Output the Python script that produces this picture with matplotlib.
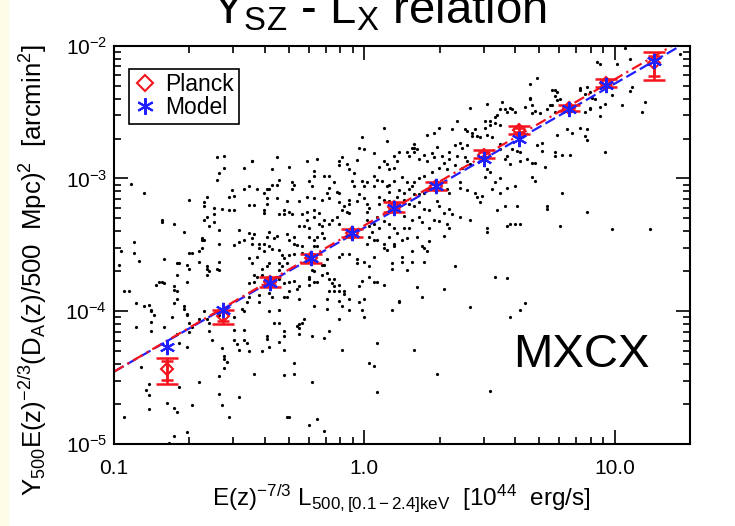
import numpy as np
import matplotlib
matplotlib.use("Agg")
import matplotlib.pyplot as plt
from matplotlib.lines import Line2D
from matplotlib.patches import Rectangle
from matplotlib.ticker import FixedLocator, FixedFormatter, LogLocator, NullFormatter

plt.rcParams['font.family'] = ['Liberation Sans', 'DejaVu Sans']
plt.rcParams['mathtext.fontset'] = 'custom'
plt.rcParams['mathtext.rm'] = 'Liberation Sans'
plt.rcParams['mathtext.it'] = 'Liberation Sans'
plt.rcParams['mathtext.bf'] = 'Liberation Sans:bold'

RED = '#f5141e'
BLUE = '#1f1fff'

# individual MCXC clusters, log10 of L500 (1e44 erg/s) and of scaled Y500 (arcmin^2)
log_lx = [
    -0.93, -0.88, -0.92, -0.81, -0.81, -0.76, -0.72, -0.70, -0.65, -0.65,
    -0.64, -0.64, -0.64, -0.63, -0.64, -0.63, -0.60, -0.60, -0.62, -0.60,
    -0.58, -0.59, -0.58, -0.59, -0.56, -0.56, -0.57, -0.54, -0.52, -0.54,
    -0.53, -0.52, -0.48, -0.48, -0.46, -0.45, -0.50, -0.48, -0.46, -0.45,
    -0.52, -0.46, 0.08, 0.09, -0.01, -0.02, 0.00, 0.04, -0.09, -0.10,
    -0.10, -0.19, -0.23, -0.03, -0.07, -0.06, -0.04, -0.35, -0.45, -0.30,
    -0.37, -0.20, -0.20, -0.16, -0.14, -0.34, -0.37, -0.29, -0.28, -0.29,
    -0.22, -0.21, -0.12, -0.05, -0.04, -0.01, 0.01, 0.00, 0.09, 0.10,
    0.12, 0.08, 0.06, 0.12, 0.13, 0.14, 0.04, 0.05, 0.04, 0.07,
    0.09, 0.10, 0.12, 0.14, 0.10, -0.43, -0.40, -0.39, -0.38, -0.35,
    -0.39, -0.35, -0.39, -0.44, -0.40, -0.40, -0.31, -0.26, -0.23, -0.20,
    -0.17, -0.14, -0.11, -0.10, -0.15, -0.14, -0.10, -0.08, -0.06, -0.06,
    -0.07, -0.06, -0.09, -0.03, -0.02, 0.00, 0.01, 0.02, 0.01, 0.06,
    0.06, 0.08, 0.10, 0.13, -0.34, -0.32, -0.32, -0.30, -0.29, -0.25,
    -0.23, -0.20, -0.18, -0.26, -0.24, -0.23, -0.22, -0.20, -0.18, -0.17,
    -0.16, -0.14, -0.13, -0.11, -0.10, 0.01, 0.02, 0.04, 0.05, 0.06,
    0.08, 0.10, 0.12, 0.13, -0.44, -0.39, -0.38, -0.35, -0.36, -0.31,
    -0.30, -0.28, -0.28, -0.27, -0.25, -0.22, -0.20, -0.19, -0.17, -0.16,
    -0.20, -0.19, -0.42, -0.40, -0.45, -0.42, -0.38, -0.37, 0.02, 0.05,
    0.08, 0.10, 0.12, 0.12, 0.08, 0.03, 0.04, 0.01, 0.69, 0.66,
    0.75, 0.76, 0.77, 0.76, 0.77, 0.78, 0.75, 0.74, 0.73, 0.66,
    0.66, 0.67, 0.68, 0.70, 0.67, 0.55, 0.49, 0.42, 0.54, 0.56,
    0.58, 0.59, 0.57, 0.60, 0.64, 0.53, 0.52, 0.50, 0.52, 0.48,
    0.48, 0.50, 0.54, 0.37, 0.30, 0.25, 0.28, 0.35, 0.40, 0.41,
    0.43, 0.44, 0.43, 0.45, 0.46, 0.49, 0.51, 0.38, 0.41, 0.39,
    0.36, 0.34, 0.29, 0.20, 0.20, 0.19, 0.20, 0.21, 0.17, 0.18,
    0.24, 0.27, 0.22, 0.25, 0.28, 0.31, 0.32, 0.34, 0.37, 0.40,
    0.41, 0.42, 0.39, 0.36, 0.33, 0.30, 0.27, 0.54, 0.54, 0.57,
    0.58, 0.56, 0.59, 0.61, 0.62, 0.65, 0.67, 0.69, 0.71, 0.71,
    0.49, 0.50, 0.48, 0.52, 0.54, 0.51, 0.54, 0.57, 0.60, 0.62,
    0.68, 0.67, 0.68, 0.72, 0.76, 0.78, 0.15, 0.17, 0.19, 0.20,
    0.22, 0.24, 0.16, 0.18, 0.20, 0.22, 0.24, 0.26, 0.33, 0.34,
    0.38, 0.38, 0.41, 0.44, 0.45, 0.47, 0.46, 0.16, 0.18, 0.20,
    0.22, 0.24, 0.26, 0.29, 0.30, 0.32, 0.34, 0.35, 0.16, 0.19,
    0.22, 0.23, 0.26, 0.28, 0.30, 0.33, 0.38, 0.42, 0.49, 0.57,
    0.60, 0.53, 0.56, 0.61, 0.73, 0.73, 0.16, 0.18, 0.15, 0.17,
    0.21, 0.23, 0.24, 0.26, 0.32, 0.34, 0.77, 0.76, 0.76, 0.93,
    0.94, 1.01, 1.06, 1.04, 0.89, 0.88, 0.90, 0.91, 0.86, 0.86,
    0.96, 0.94, 0.90, 0.90, 0.88, 0.99, 1.07, 1.06, 1.03, 1.12,
    1.11, 0.94, 0.89, 0.88, 0.83, 0.81, 0.92, 0.96, 0.82, 0.79,
    0.89, 0.86, 0.89, 0.99, 1.14, 1.26, 0.79, 0.62, 0.58, 0.49,
    -0.40, -0.34, -0.33, -0.32, -0.30, -0.28, -0.25, -0.46, -0.43, -0.45,
    -0.41, -0.39, -0.38, -0.34, -0.33, -0.31, -0.34, -0.44, -0.43, -0.44,
    -0.46, -0.41, -0.39, -0.35, -0.34, -0.32, -0.30, -0.28, -0.26, -0.27,
    -0.30, -0.32, -0.31, -0.37, -0.38, -0.42, -0.46, -0.42, -0.22, -0.22,
    -0.20, -0.22, -0.19, -0.17, -0.15, -0.14, -0.12, -0.13, -0.12, -0.14,
    -0.12, -0.10, -0.10, -0.17, -0.16, -0.15, -0.20, -0.21, -0.10, -0.09,
    -0.06, -0.03, -0.03, 0.00, 0.02, 0.04, 0.09, 0.11, 0.11, -0.08,
    -0.08, -0.06, -0.10, -0.09, -0.06, -0.15, -0.15, -0.26, -0.20, -0.02,
    -0.01, 0.02, 0.04, 0.05, 0.08, -0.02, 0.00, -0.01, 0.00, -0.10,
    -0.14, -0.16, -0.21, -0.24, -0.25, -0.26, -0.27, -0.26, -0.26, -0.38,
    -0.34, -0.36, -0.34, -0.32, -0.32, -0.34, -0.39, -0.39, -0.38, -0.41,
    -0.32, -0.09, 0.05, 0.11, 0.14, -0.28, -0.28, -0.32, -0.44, 0.02,
    0.04, -0.21, 0.05, -0.31, -0.30, -0.19, -0.22, -0.16, 0.15, 0.19,
    0.25, 0.15, 0.19, 0.24, 0.17, 0.36, 0.21, 0.23, 0.14, 0.32,
    0.42, 0.52, 0.57, 0.64, 0.62, 0.58, 0.20, 0.29, 0.50, -0.97,
    -0.92, -0.90, -0.80, -0.98, -0.96, -0.94, -0.91, -0.88, -0.85, -0.82,
    -0.81, -0.80, -0.83, -0.75, -0.74, -0.76, -0.76, -0.75, -0.71, -0.70,
    -0.69, -0.66, -0.65, -0.66, -0.63, -0.62, -0.63, -0.63, -0.59, -0.58,
    -0.86, -0.85, -0.84, -0.85, -0.91, -0.85, -0.80, -0.77, -0.76, -0.75,
    -0.72, -0.72, -0.71, -0.71, -0.70, -0.69, -0.70, -0.74, -0.66, -0.64,
    -0.63, -0.62, -0.62, -0.61, -0.58, -0.57, -0.56, -0.71, -0.75, -0.89,
    -0.86, -0.87, -0.86, -0.86, -0.96, -0.79, -0.76, -0.75, -0.74, -0.71,
    -0.69, -0.76, -0.78, -0.66, -0.58, -0.55, -0.56, -0.56, -0.58, -0.57,
    -0.54, -0.50, -0.52, -0.48, -0.48, -0.52, -0.51, -0.50, -0.47, -0.46,
    -0.49, -0.47, -0.48, -0.52, -0.71, -0.70, -0.75, -0.58, -0.58, -0.50,
]
log_y = [
    -3.04, -3.11, -3.48, -3.31, -3.33, -3.34, -3.40, -3.16, -3.45, -3.46,
    -3.46, -3.18, -3.21, -3.14, -3.31, -3.29, -3.22, -3.27, -3.36, -3.33,
    -3.39, -3.01, -2.96, -2.84, -2.83, -2.92, -3.23, -3.24, -3.24, -3.14,
    -3.09, -3.13, -3.08, -2.92, -3.06, -2.87, -3.48, -3.46, -3.41, -3.45,
    -3.50, -3.20, -2.62, -2.72, -2.69, -2.77, -2.78, -2.81, -2.84, -2.87,
    -2.90, -2.85, -2.87, -2.86, -2.89, -2.93, -2.96, -2.84, -2.87, -2.91,
    -2.93, -2.94, -2.98, -2.98, -2.98, -3.01, -3.05, -3.03, -3.05, -3.08,
    -3.02, -3.06, -3.03, -3.02, -3.06, -3.02, -3.03, -3.06, -2.89, -2.93,
    -2.92, -2.87, -2.91, -2.83, -2.87, -2.80, -2.98, -3.01, -3.06, -3.02,
    -3.06, -3.05, -3.02, -3.09, -3.10, -3.08, -3.11, -3.08, -3.08, -3.05,
    -3.15, -3.15, -3.19, -3.20, -3.24, -3.26, -3.17, -3.17, -3.14, -3.15,
    -3.16, -3.15, -3.10, -3.11, -3.11, -3.07, -3.18, -3.21, -3.16, -3.19,
    -3.25, -3.26, -3.24, -3.17, -3.12, -3.15, -3.19, -3.22, -3.25, -3.14,
    -3.19, -3.16, -3.17, -3.14, -3.27, -3.27, -3.24, -3.25, -3.27, -3.27,
    -3.25, -3.24, -3.26, -3.36, -3.36, -3.31, -3.37, -3.29, -3.34, -3.36,
    -3.31, -3.34, -3.31, -3.29, -3.34, -3.31, -3.36, -3.34, -3.29, -3.37,
    -3.32, -3.34, -3.37, -3.41, -3.42, -3.44, -3.40, -3.43, -3.45, -3.42,
    -3.46, -3.44, -3.49, -3.50, -3.51, -3.44, -3.46, -3.44, -3.41, -3.45,
    -3.51, -3.51, -3.49, -3.49, -3.49, -3.52, -3.51, -3.53, -3.44, -3.46,
    -3.49, -3.44, -3.49, -3.51, -3.52, -3.40, -3.46, -3.49, -2.24, -2.29,
    -2.33, -2.33, -2.35, -2.38, -2.41, -2.40, -2.45, -2.45, -2.48, -2.39,
    -2.40, -2.45, -2.49, -2.51, -2.51, -2.42, -2.44, -2.47, -2.48, -2.48,
    -2.47, -2.48, -2.50, -2.50, -2.46, -2.52, -2.54, -2.57, -2.58, -2.57,
    -2.62, -2.60, -2.60, -2.57, -2.62, -2.67, -2.66, -2.63, -2.63, -2.64,
    -2.66, -2.63, -2.68, -2.68, -2.69, -2.67, -2.69, -2.73, -2.75, -2.77,
    -2.75, -2.80, -2.76, -2.74, -2.77, -2.77, -2.80, -2.78, -2.80, -2.83,
    -2.82, -2.81, -2.85, -2.87, -2.84, -2.83, -2.88, -2.85, -2.83, -2.84,
    -2.87, -2.89, -2.92, -2.90, -2.93, -2.92, -2.95, -2.74, -2.78, -2.83,
    -2.89, -2.85, -2.78, -2.79, -2.80, -2.85, -2.88, -2.75, -2.73, -2.79,
    -2.93, -2.95, -2.99, -3.03, -3.00, -3.08, -3.11, -3.07, -3.06, -2.87,
    -2.88, -2.99, -3.02, -2.91, -2.83, -3.36, -2.99, -3.03, -3.06, -3.03,
    -3.00, -2.98, -3.11, -3.08, -3.12, -3.12, -3.11, -3.08, -3.08, -3.11,
    -3.07, -3.03, -3.09, -3.11, -3.14, -3.13, -3.18, -3.16, -3.19, -3.21,
    -3.18, -3.23, -3.24, -3.17, -3.21, -3.26, -3.23, -3.27, -3.28, -3.31,
    -3.29, -3.33, -3.37, -3.31, -3.32, -3.34, -3.29, -3.31, -3.37, -3.36,
    -3.34, -3.24, -3.21, -3.21, -3.21, -3.23, -3.37, -3.37, -3.46, -3.45,
    -3.44, -3.51, -3.52, -3.47, -3.43, -3.37, -2.67, -2.80, -2.50, -2.12,
    -2.14, -2.14, -2.10, -2.02, -2.31, -2.36, -2.35, -2.39, -2.33, -2.32,
    -2.44, -2.46, -2.47, -2.48, -2.50, -2.37, -2.31, -2.34, -2.45, -2.42,
    -2.50, -2.53, -2.63, -2.68, -2.66, -2.63, -2.40, -2.80, -2.82, -2.82,
    -2.71, -2.62, -3.25, -3.38, -3.38, -2.06, -3.11, -3.34, -3.34, -3.40,
    -3.55, -3.54, -3.58, -3.60, -3.58, -3.57, -3.56, -3.60, -3.59, -3.64,
    -3.68, -3.66, -3.64, -3.64, -3.66, -3.64, -3.69, -3.73, -3.74, -3.78,
    -3.79, -3.73, -3.76, -3.74, -3.76, -3.79, -3.78, -3.77, -3.81, -3.83,
    -3.85, -3.89, -3.89, -3.89, -3.86, -3.88, -3.89, -3.93, -3.74, -3.76,
    -3.78, -3.80, -3.78, -3.73, -3.71, -3.76, -3.76, -3.79, -3.81, -3.85,
    -3.85, -3.80, -3.85, -3.65, -3.65, -3.61, -3.70, -3.69, -3.59, -3.57,
    -3.57, -3.61, -3.64, -3.63, -3.66, -3.59, -3.54, -3.64, -3.68, -3.85,
    -3.87, -3.91, -3.92, -3.96, -3.99, -3.91, -3.98, -3.91, -3.96, -3.81,
    -3.77, -3.74, -3.78, -3.78, -3.80, -3.93, -3.91, -3.99, -4.04, -4.06,
    -4.15, -4.20, -4.19, -4.06, -4.09, -4.10, -4.11, -4.13, -4.17, -4.00,
    -3.99, -4.09, -4.09, -4.15, -4.19, -4.23, -4.21, -4.19, -4.27, -4.30,
    -4.29, -4.29, -4.24, -3.99, -3.93, -4.39, -4.47, -4.48, -4.47, -4.39,
    -4.41, -4.53, -4.61, -4.80, -4.80, -4.81, -4.86, -4.90, -3.59, -3.55,
    -3.55, -3.63, -3.63, -3.63, -3.69, -3.66, -3.82, -3.89, -3.92, -3.83,
    -3.97, -3.74, -3.75, -3.94, -3.99, -4.04, -4.29, -4.47, -4.60, -3.55,
    -3.56, -3.62, -3.61, -3.65, -3.85, -3.85, -3.94, -3.96, -3.99, -3.78,
    -3.78, -3.79, -3.80, -3.64, -3.64, -3.81, -3.84, -3.85, -3.78, -3.56,
    -3.56, -3.55, -3.52, -3.63, -3.68, -3.70, -3.66, -3.73, -3.68, -3.69,
    -3.95, -4.00, -4.03, -4.08, -4.12, -4.15, -4.12, -4.04, -3.94, -3.91,
    -3.96, -3.98, -4.02, -4.03, -4.09, -4.12, -4.16, -4.24, -4.06, -4.00,
    -4.06, -4.15, -4.09, -4.22, -4.03, -4.28, -4.34, -4.27, -4.17, -4.42,
    -4.55, -4.59, -4.63, -4.74, -4.80, -4.69, -4.73, -4.76, -4.57, -4.91,
    -4.71, -4.94, -4.99, -4.53, -4.49, -4.38, -4.36, -4.43, -4.62, -4.71,
    -4.80, -4.65, -4.14, -4.14, -4.22, -4.22, -4.25, -4.29, -4.24, -4.30,
    -3.98, -3.93, -4.00, -4.04, -3.65, -3.68, -3.73, -3.63, -3.49, -3.39,
]

# binned values
bin_lx = [0.163, 0.273, 0.419, 0.611, 0.893, 1.316, 1.932, 3.006, 4.15, 6.57, 9.22, 14.3]
model_y = [5.42e-5, 1.03e-4, 1.64e-4, 2.51e-4, 3.88e-4, 5.98e-4,
           8.71e-4, 1.40e-3, 1.99e-3, 3.33e-3, 5.02e-3, 7.62e-3]
planck_y = [3.66e-5, 9.23e-5, 1.67e-4, 2.51e-4, 3.90e-4, 6.15e-4,
            8.81e-4, 1.51e-3, 2.33e-3, 3.40e-3, 5.28e-3, 7.41e-3]
planck_lo = [2.84e-5, 8.0e-5, 1.53e-4, 2.32e-4, 3.64e-4, 5.64e-4,
             8.22e-4, 1.43e-3, 2.17e-3, 3.20e-3, 4.93e-3, 5.55e-3]
planck_hi = [4.48e-5, 1.03e-4, 1.82e-4, 2.71e-4, 4.18e-4, 6.67e-4,
             9.44e-4, 1.64e-3, 2.49e-3, 3.59e-3, 5.61e-3, 8.91e-3]
planck_lo_in = [3.04e-5, 8.47e-5, 1.58e-4, 2.40e-4, 3.77e-4, 5.86e-4,
                8.51e-4, 1.46e-3, 2.25e-3, 3.30e-3, 5.08e-3, 5.94e-3]
planck_hi_in = [4.18e-5, 9.89e-5, 1.75e-4, 2.61e-4, 4.04e-4, 6.44e-4,
                9.12e-4, 1.59e-3, 2.41e-3, 3.50e-3, 5.50e-3, 8.41e-3]

# fitted relations (end points)
fit_x = [0.1, 20.0]
model_fit = [3.5e-5, 1.10e-2]
planck_fit = [3.5e-5, 1.20e-2]


def main():
    fig = plt.figure(figsize=(7.35, 5.26), dpi=100, facecolor='white')
    fig.add_artist(Rectangle((0, 0), 8 / 735, 1, transform=fig.transFigure,
                             color='#fdfbe6', zorder=-5))
    ax = fig.add_axes([0.155, 0.156, 0.784, 0.757])

    ax.plot(10 ** np.array(log_lx), 10 ** np.array(log_y), 'o', ms=2.3,
            color='k', mew=0, zorder=1)

    ax.plot(fit_x, model_fit, color=BLUE, lw=1.6, dashes=(5, 2), zorder=2)
    ax.plot(fit_x, planck_fit, color=RED, lw=1.6, dashes=(5, 2, 1, 2), zorder=2)

    py = np.array(planck_y)
    ax.errorbar(bin_lx, py, yerr=[py - np.array(planck_lo), np.array(planck_hi) - py],
                fmt='none', ecolor=RED, elinewidth=1.8, capsize=8, capthick=1.8, zorder=3)
    ax.errorbar(bin_lx, py, yerr=[py - np.array(planck_lo_in), np.array(planck_hi_in) - py],
                fmt='none', ecolor=RED, elinewidth=1.8, capsize=4.5, capthick=1.8, zorder=3)
    ax.plot(bin_lx, planck_y, 'D', ls='none', ms=6.5, mfc='none', mec=RED, mew=1.5, zorder=4)
    ax.plot(bin_lx, model_y, ls='none', marker=(6, 2, 0), ms=11, color=BLUE, mew=1.5, zorder=5)

    ax.set_xscale('log')
    ax.set_yscale('log')
    ax.set_xlim(0.1, 20.0)
    ax.set_ylim(1e-5, 1e-2)

    ax.xaxis.set_major_locator(FixedLocator([0.1, 1.0, 10.0]))
    ax.xaxis.set_major_formatter(FixedFormatter(['0.1', '1.0', '10.0']))
    ax.xaxis.set_minor_locator(LogLocator(base=10, subs=np.arange(2, 10)))
    ax.xaxis.set_minor_formatter(NullFormatter())
    ax.yaxis.set_minor_locator(LogLocator(base=10, subs=np.arange(2, 10)))
    ax.yaxis.set_minor_formatter(NullFormatter())

    ax.tick_params(which='both', direction='in', top=True, right=True, width=1.2,
                   labelsize=15, colors='k')
    ax.tick_params(which='major', length=10)
    ax.tick_params(which='minor', length=5)
    ax.tick_params(axis='x', pad=11)
    ax.tick_params(axis='y', pad=5)
    for sp in ax.spines.values():
        sp.set_linewidth(1.5)

    handles = [Line2D([], [], ls='none', marker='D', ms=8, mfc='none', mec=RED, mew=1.5),
               Line2D([], [], ls='none', marker=(6, 2, 0), ms=12, color=BLUE, mew=1.5)]
    leg = ax.legend(handles, ['Planck', 'Model'], loc='upper left',
                    bbox_to_anchor=(0.026, 0.942), borderaxespad=0, fontsize=16.5,
                    fancybox=False, framealpha=1, edgecolor='k', handlelength=1.0,
                    handletextpad=0.4, borderpad=0.2, labelspacing=0.0)
    leg.get_frame().set_linewidth(1.2)

    ax.text(0.692, 0.194, 'MXCX', transform=ax.transAxes, fontsize=34,
            ha='left', va='baseline')

    fig.text(0.516, 0.956, r'Y$_{\mathrm{SZ}}$ - L$_{\mathrm{X}}$ relation',
             fontsize=34, ha='center', va='baseline')
    fig.text(0.546, 0.053,
             r'E(z)$^{-7/3}$ L$_{\mathrm{500,[0.1-2.4]keV}}$  [10$^{44}$  erg/s]',
             fontsize=17.5, ha='center', va='center')
    fig.text(0.045, 0.487,
             r'Y$_{500}$E(z)$^{-2/3}$(D$_{\mathrm{A}}$(z)/500  Mpc)$^2$  [arcmin$^2$]',
             fontsize=18.5, ha='center', va='center', rotation=90)

    fig.savefig('out.png', dpi=100, facecolor=fig.get_facecolor())


if __name__ == '__main__':
    main()
